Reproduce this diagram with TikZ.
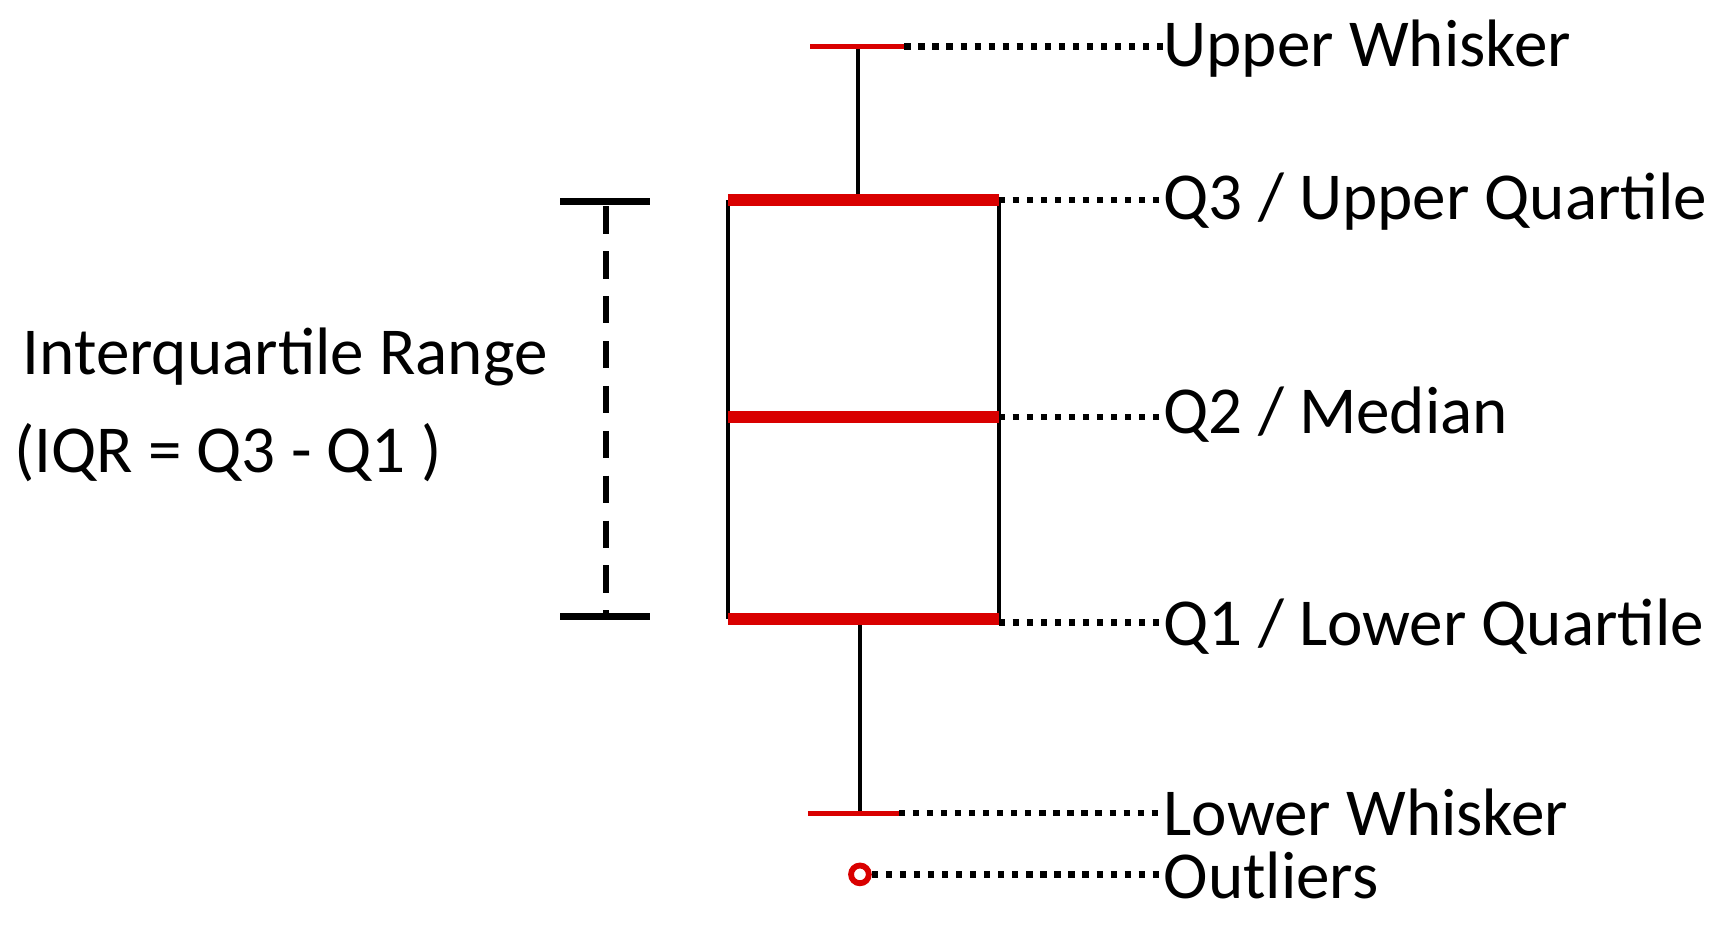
\documentclass[tikz,border=0pt]{standalone}
\usepackage{fontspec}
\setmainfont{Carlito}
\begin{document}
\begin{tikzpicture}[x=0.01cm,y=-0.01cm,
  lbl/.style={anchor=west,inner sep=0pt,font=\fontsize{17.2}{20}\selectfont},
  dot/.style={line width=1.6pt,dotted},
  redthick/.style={draw=red!85!black,line width=3pt},
  redthin/.style={draw=red!85!black,line width=1.4pt},
  blk/.style={line width=1.1pt}]
\useasboundingbox (0,0) rectangle (1560,836);
\coordinate (uwl) at (730,42); \coordinate (uwr) at (815,42);
\coordinate (lwl) at (728,733); \coordinate (lwr) at (810,733);
\coordinate (q3l) at (656,180); \coordinate (q3r) at (900,180);
\coordinate (q2l) at (656,376); \coordinate (q2r) at (900,376);
\coordinate (q1l) at (656,558); \coordinate (q1r) at (900,558);
\draw[blk] (773,42) -- (773,180);
\draw[blk] (775,558) -- (775,733);
\draw[blk] (q3l) -- (q1l);
\draw[blk] (q3r) -- (q1r);
\draw[redthin] (uwl) -- (uwr);
\draw[redthin] (lwl) -- (lwr);
\draw[redthick] (q3l) -- (q3r);
\draw[redthick] (q2l) -- (q2r);
\draw[redthick] (q1l) -- (q1r);
\node[circle,draw=red!85!black,line width=1.5pt,minimum size=0.16cm,inner sep=0pt] (out) at (775,788) {};
\coordinate (ib1) at (505,182); \coordinate (ib2) at (586,182);
\coordinate (ib3) at (505,556); \coordinate (ib4) at (586,556);
\draw[line width=1.8pt] (ib1) -- (ib2);
\draw[line width=1.8pt] (ib3) -- (ib4);
\draw[line width=1.5pt,dash pattern=on 7pt off 4.5pt] (546,186) -- (546,552);
\node[inner sep=0pt,font=\fontsize{17.2}{20}\selectfont] (iqr1) at (257,322) {Interquartile Range};
\node[inner sep=0pt,anchor=west,font=\fontsize{17.2}{20}\selectfont] (iqr2) at (12,408) {(IQR = Q3 - Q1 )};
\node[lbl] (uw) at (1048,44) {Upper Whisker};
\node[lbl] (q3) at (1048,182) {Q3 / Upper Quartile};
\node[lbl] (q2) at (1048,374) {Q2 / Median};
\node[lbl] (q1) at (1048,565) {Q1 / Lower Quartile};
\node[lbl] (lw) at (1048,732) {Lower Whisker};
\node[lbl] (ol) at (1048,789) {Outliers};
\draw[dot] (uwr) -- (uw.west |- uwr);
\draw[dot] (q3r) -- (q3.west |- q3r);
\draw[dot] (q2r) -- (q2.west |- q2r);
\draw[dot] (900,561) -- (q1.west |- 0,561);
\draw[dot] (lwr) -- (lw.west |- lwr);
\draw[dot] (out.east) -- (ol.west |- out.east);
\end{tikzpicture}
\end{document}
